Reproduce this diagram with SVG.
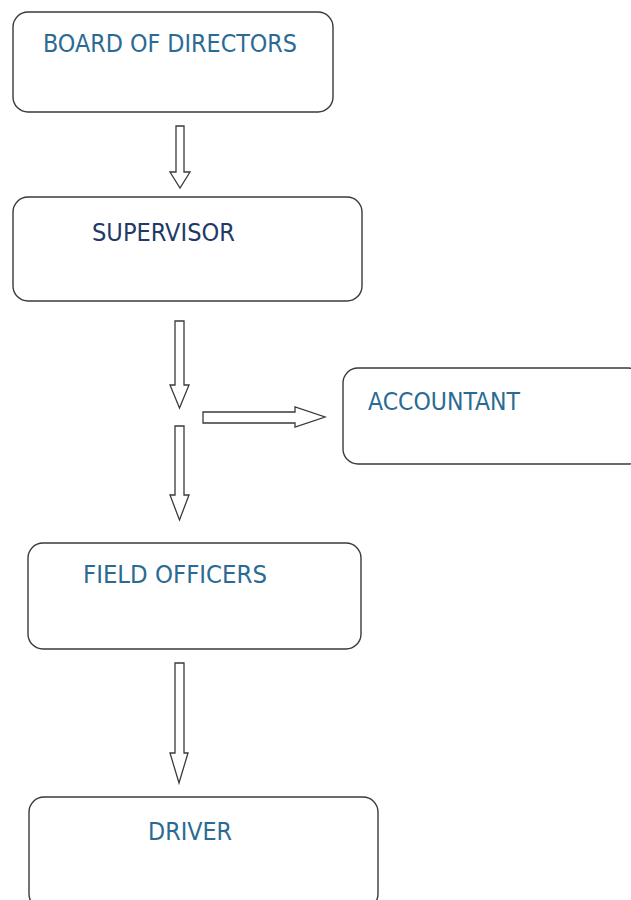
<svg xmlns="http://www.w3.org/2000/svg" width="631" height="900" viewBox="0 0 631 900">
<style>
.box{fill:#fff;stroke:#3a3a3a;stroke-width:1.4}
.lbl{font-family:"DejaVu Sans Condensed","DejaVu Sans","Liberation Sans",sans-serif;font-size:25px;fill:#2b6b93}
.dark{fill:#1f3a66}
.arr{fill:#fff;stroke:#3a3a3a;stroke-width:1.3;stroke-linejoin:miter}
</style>
<rect width="631" height="900" fill="#fff"/>
<g id="board">
<rect class="box" x="13" y="12" width="320" height="100" rx="15"/>
<text class="lbl" x="43" y="52" textLength="254" lengthAdjust="spacingAndGlyphs">BOARD OF DIRECTORS</text>
</g>
<g id="supervisor">
<rect class="box" x="13" y="197" width="349" height="104" rx="15"/>
<text class="lbl dark" x="92" y="241" textLength="143" lengthAdjust="spacingAndGlyphs">SUPERVISOR</text>
</g>
<g id="accountant">
<rect class="box" x="343" y="368" width="300" height="96" rx="15"/>
<text class="lbl" x="368" y="410" textLength="152" lengthAdjust="spacingAndGlyphs">ACCOUNTANT</text>
</g>
<g id="field-officers">
<rect class="box" x="28" y="543" width="333" height="106" rx="15"/>
<text class="lbl" x="83" y="583" textLength="184" lengthAdjust="spacingAndGlyphs">FIELD OFFICERS</text>
</g>
<g id="driver">
<rect class="box" x="29" y="797" width="349" height="112" rx="15"/>
<text class="lbl" x="148" y="840" textLength="84" lengthAdjust="spacingAndGlyphs">DRIVER</text>
</g>
<g id="connectors">
<path class="arr" d="M176,126 H184 V172 H190 L180,188 L170,172 H176 Z"/>
<path class="arr" d="M175,321 H184 V385 H189 L179.5,408 L170,385 H175 Z"/>
<path class="arr" d="M175,426 H184 V495 H189 L179.5,520 L170,495 H175 Z"/>
<path class="arr" d="M203,412 H295 V407 L325,417 L295,427 V423 H203 Z"/>
<path class="arr" d="M175,663 H184 V753 H188 L179,783 L170,753 H175 Z"/>
</g>
</svg>
